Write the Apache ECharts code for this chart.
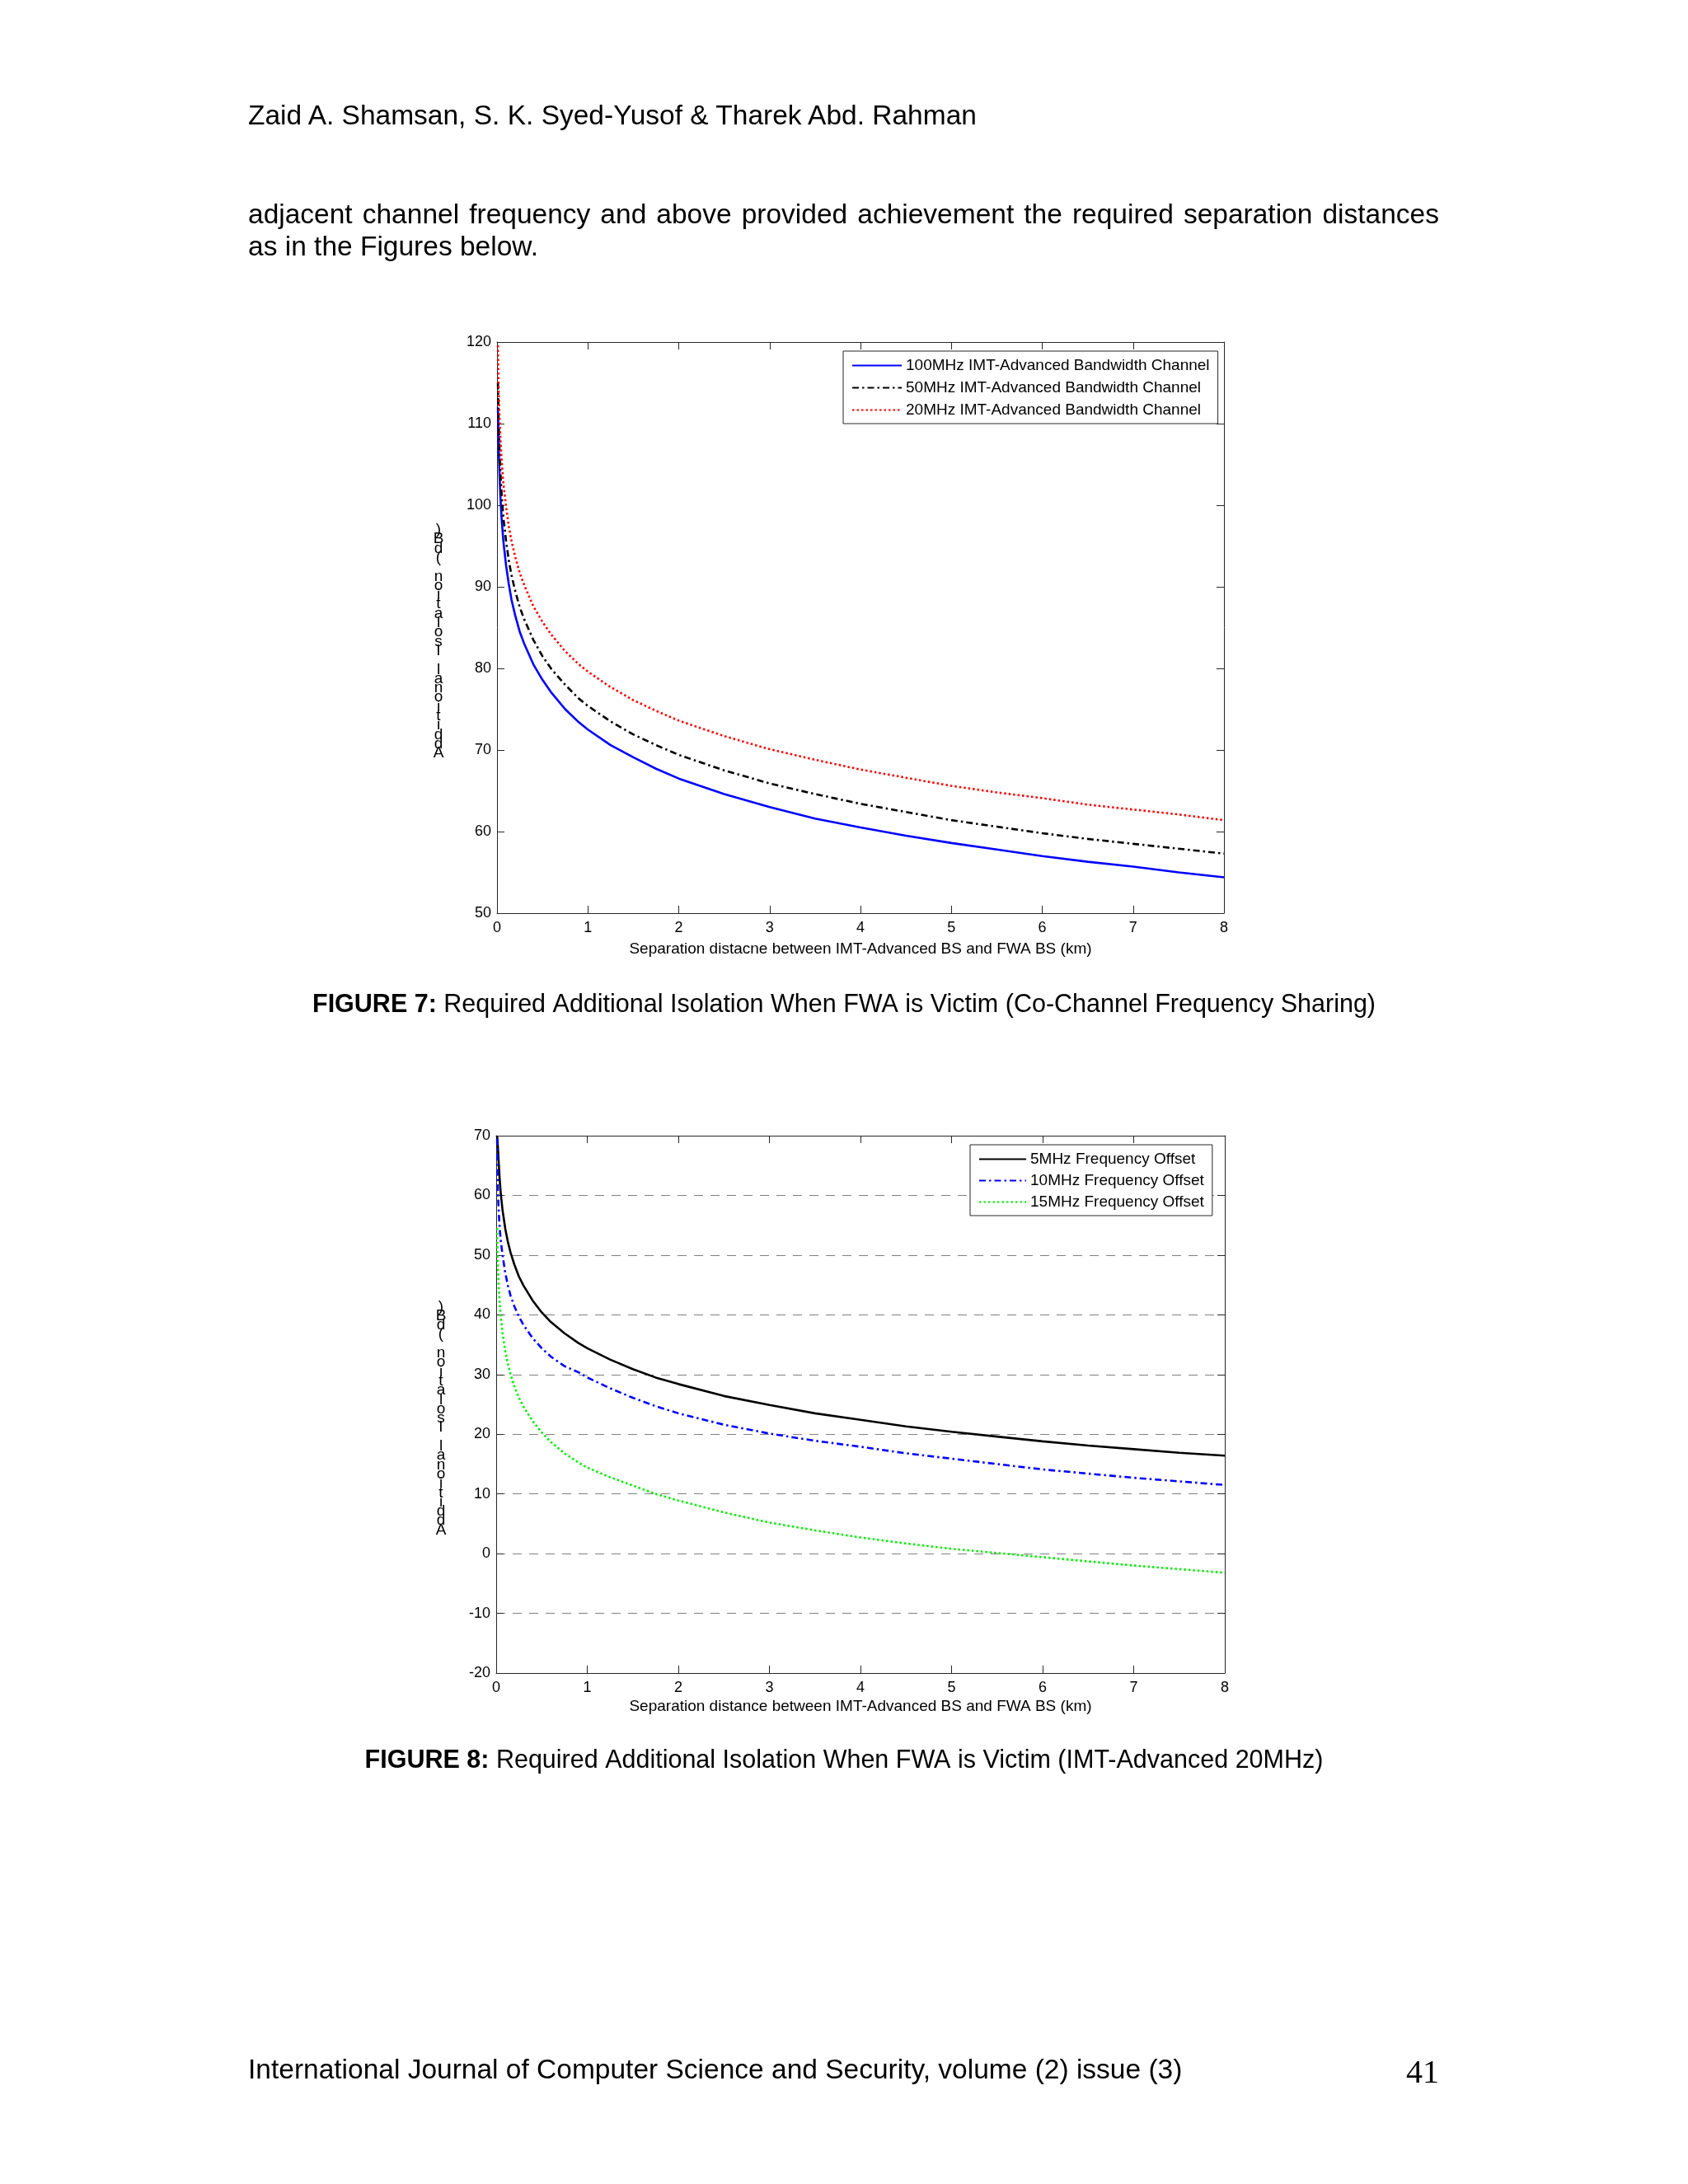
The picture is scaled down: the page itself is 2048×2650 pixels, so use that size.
<!DOCTYPE html>
<html><head><meta charset="utf-8">
<script src="https://cdn.jsdelivr.net/npm/echarts@6/dist/echarts.min.js"></script>
<style>
html,body{margin:0;padding:0;background:#fff;}
#page{position:relative;width:2048px;height:2650px;background:#fff;overflow:hidden;}
#chart{position:absolute;left:0;top:0;width:2048px;height:2650px;}
.t{position:absolute;font-family:'Liberation Sans',Arial,sans-serif;color:#000;white-space:nowrap;}
</style></head>
<body><div id="page">
<div id="chart"></div>
<div class="t" style="left:301px;top:120px;font-size:33.5px;line-height:40px;">Zaid A. Shamsan, S. K. Syed-Yusof &amp; Tharek Abd. Rahman</div>
<div class="t" style="left:301px;top:240px;width:1445px;font-size:33.5px;line-height:40px;white-space:normal;text-align:justify;text-align-last:justify;">adjacent channel frequency and above provided achievement the required separation distances</div>
<div class="t" style="left:301px;top:279px;font-size:33.5px;line-height:40px;">as in the Figures below.</div>
<div class="t" style="left:301px;top:2491px;font-size:33.5px;line-height:40px;">International Journal of Computer Science and Security, volume (2) issue (3)</div>
<div class="t" style="right:302px;top:2491px;font-family:'Liberation Serif','Times New Roman',serif;font-size:40px;line-height:46px;">41</div>
</div>
<script>
// ---- data ----
const dist = [0.01, 0.015, 0.02, 0.03, 0.04, 0.05, 0.07, 0.1, 0.13, 0.16, 0.2, 0.25, 0.3, 0.4, 0.5, 0.6, 0.75, 0.9, 1, 1.25, 1.5, 1.75, 2, 2.5, 3, 3.5, 4, 4.5, 5, 5.5, 6, 6.5, 7, 7.5, 8];

// Figure 7 (co-channel)
const fig7Names = ['100MHz IMT-Advanced Bandwidth Channel', '50MHz IMT-Advanced Bandwidth Channel', '20MHz IMT-Advanced Bandwidth Channel'];
const bw100 = [112.0, 109.0, 106.5, 103.0, 100.5, 98.5, 95.6, 92.6, 90.3, 88.4, 86.5, 84.5, 83.0, 80.5, 78.6, 77.0, 75.0, 73.4, 72.5, 70.6, 69.1, 67.7, 66.5, 64.6, 63.0, 61.6, 60.5, 59.5, 58.6, 57.8, 57.0, 56.3, 55.7, 55.0, 54.4];
const bw50 = [115.0, 112.0, 109.5, 106.0, 103.5, 101.5, 98.5, 95.6, 93.2, 91.4, 89.5, 87.5, 86.0, 83.5, 81.5, 79.9, 78.0, 76.3, 75.4, 73.5, 71.9, 70.6, 69.4, 67.5, 65.9, 64.6, 63.4, 62.4, 61.4, 60.6, 59.8, 59.1, 58.5, 57.9, 57.3];
const bw20 = [119.6, 116.1, 113.6, 110.1, 107.6, 105.7, 102.7, 99.8, 97.4, 95.6, 93.7, 91.7, 90.2, 87.6, 85.7, 84.1, 82.1, 80.5, 79.6, 77.7, 76.1, 74.8, 73.6, 71.7, 70.1, 68.8, 67.6, 66.6, 65.6, 64.8, 64.1, 63.3, 62.7, 62.1, 61.4];

// Figure 8 (adjacent channel, IMT-Advanced 20MHz)
const fig8Names = ['5MHz Frequency Offset', '10MHz Frequency Offset', '15MHz Frequency Offset'];
const off5 = [70.0, 69.0, 67.8, 64.9, 62.4, 60.4, 57.5, 54.4, 52.1, 50.3, 48.4, 46.4, 44.9, 42.4, 40.4, 38.8, 36.9, 35.3, 34.4, 32.5, 30.9, 29.5, 28.4, 26.4, 24.9, 23.5, 22.4, 21.3, 20.4, 19.6, 18.8, 18.1, 17.5, 16.9, 16.4];
const off10 = [69.5, 63.3, 60.2, 56.8, 54.2, 52.5, 50.0, 47.0, 44.8, 43.1, 41.4, 39.7, 38.3, 36.1, 34.4, 33.0, 31.4, 30.4, 29.5, 27.7, 26.1, 24.7, 23.5, 21.6, 20.1, 18.9, 17.9, 16.8, 15.9, 15.0, 14.1, 13.4, 12.7, 12.1, 11.5];
const off15 = [54.5, 50.0, 47.5, 44.1, 41.7, 39.8, 36.9, 33.9, 31.7, 29.9, 28.0, 26.1, 24.6, 22.2, 20.3, 18.7, 16.8, 15.3, 14.4, 12.8, 11.4, 10.0, 8.9, 6.9, 5.2, 3.9, 2.7, 1.7, 0.8, 0.1, -0.6, -1.3, -2.0, -2.6, -3.2];

const xName7 = 'Separation distacne between IMT-Advanced BS and FWA BS (km)';
const xName8 = 'Separation distance between IMT-Advanced BS and FWA BS (km)';
const yName = 'Additional Isolation (dB)';
const caption7 = ['FIGURE 7:', 'Required Additional Isolation When FWA is Victim (Co-Channel Frequency Sharing)'];
const caption8 = ['FIGURE 8:', 'Required Additional Isolation When FWA is Victim (IMT-Advanced 20MHz)'];

// ---- build ----
const FONT = 'Liberation Sans';
const AX = '#262626';
function pairs(xs, ys) { return xs.map((x, i) => [x, ys[i]]).filter(p => p[1] !== null); }
// characters stacked upright, bottom-to-top, as in the reference; leading blank lines push the block down a little
const stackedName = ' \n \n \n' + yName.split('').reverse().join('\n');

function xAxis(gi, pos, main, name, gap) {
  return {
    type: 'value', gridIndex: gi, position: pos, min: 0, max: 8, interval: 1,
    axisLine: { show: true, onZero: false, lineStyle: { color: AX, width: 1 } },
    axisTick: { show: true, inside: true, length: 9, lineStyle: { color: AX } },
    axisLabel: { show: main, fontSize: 18, color: '#000', margin: 9, fontFamily: FONT },
    splitLine: { show: false },
    name: main ? name : '', nameLocation: 'middle', nameGap: gap,
    nameTextStyle: { fontSize: 19, color: '#000', fontFamily: FONT }
  };
}
function yAxis(gi, pos, main, min, max, grid, gap) {
  return {
    type: 'value', gridIndex: gi, position: pos, min: min, max: max, interval: 10,
    axisLine: { show: true, onZero: false, lineStyle: { color: AX, width: 1 } },
    axisTick: { show: true, inside: true, length: 9, lineStyle: { color: AX } },
    axisLabel: { show: main, fontSize: 18, color: '#000', margin: 7, fontFamily: FONT },
    splitLine: { show: main && grid, lineStyle: { color: '#808080', width: 1, type: [11, 9] } },
    name: main ? stackedName : '', nameLocation: 'middle', nameRotate: 0, nameGap: gap,
    nameTextStyle: { fontSize: 19, color: '#000', fontFamily: FONT, lineHeight: 11.3,
      align: 'center', verticalAlign: 'middle' }
  };
}
function line(name, xi, yi, ys, color, type, width) {
  return {
    type: 'line', name: name, xAxisIndex: xi, yAxisIndex: yi, data: pairs(dist, ys),
    symbol: 'none', showSymbol: false, clip: true, smooth: false,
    lineStyle: { color: color, width: width, type: type }, itemStyle: { color: color },
    emphasis: { disabled: true }
  };
}
function legend(names, left, top, iw, gap) {
  return {
    data: names, orient: 'vertical', left: left, top: top,
    itemWidth: iw, itemHeight: 14, itemGap: gap, padding: [8, 10, 7, 10],
    borderColor: AX, borderWidth: 1, backgroundColor: '#fff', selectedMode: false,
    itemStyle: { opacity: 0 },
    textStyle: { fontSize: 19, color: '#000', fontFamily: FONT }
  };
}
function caption(c, top) {
  return {
    text: '{b|' + c[0] + '} ' + c[1], left: 'center', top: top, padding: 0,
    textStyle: { fontSize: 30.5, fontWeight: 'normal', color: '#000', fontFamily: FONT, lineHeight: 36,
      rich: { b: { fontSize: 30.5, fontWeight: 'bold', color: '#000', fontFamily: FONT, lineHeight: 36 } } }
  };
}
const DASHDOT = [8, 4, 2.5, 4];
const DOT = [2.5, 3];

const option = {
  animation: false,
  backgroundColor: 'transparent',
  textStyle: { fontFamily: FONT },
  title: [caption(caption7, 1202), caption(caption8, 2119)],
  grid: [
    { left: 603, top: 415, width: 882, height: 693, containLabel: false, outerBoundsMode: 'none' },
    { left: 602, top: 1378, width: 884, height: 652, containLabel: false, outerBoundsMode: 'none' }
  ],
  xAxis: [
    xAxis(0, 'bottom', true, xName7, 34), xAxis(0, 'top', false, '', 0),
    xAxis(1, 'bottom', true, xName8, 31), xAxis(1, 'top', false, '', 0)
  ],
  yAxis: [
    yAxis(0, 'left', true, 50, 120, false, 71), yAxis(0, 'right', false, 50, 120, false, 0),
    yAxis(1, 'left', true, -20, 70, true, 67), yAxis(1, 'right', false, -20, 70, true, 0)
  ],
  legend: [legend(fig7Names, 1023, 426, 60, 8), legend(fig8Names, 1177, 1389, 57, 7)],
  series: [
    line(fig7Names[0], 0, 0, bw100, '#0000ff', 'solid', 2.6),
    line(fig7Names[1], 0, 0, bw50, '#000000', DASHDOT, 2.6),
    line(fig7Names[2], 0, 0, bw20, '#ff0000', DOT, 2.6),
    line(fig8Names[0], 2, 2, off5, '#000000', 'solid', 2.6),
    line(fig8Names[1], 2, 2, off10, '#0000ff', DASHDOT, 2.6),
    line(fig8Names[2], 2, 2, off15, '#00ee00', DOT, 2.6)
  ]
};
const chart = echarts.init(document.getElementById('chart'), null, { renderer: 'canvas', width: 2048, height: 2650 });
chart.setOption(option);
</script>
</body></html>
